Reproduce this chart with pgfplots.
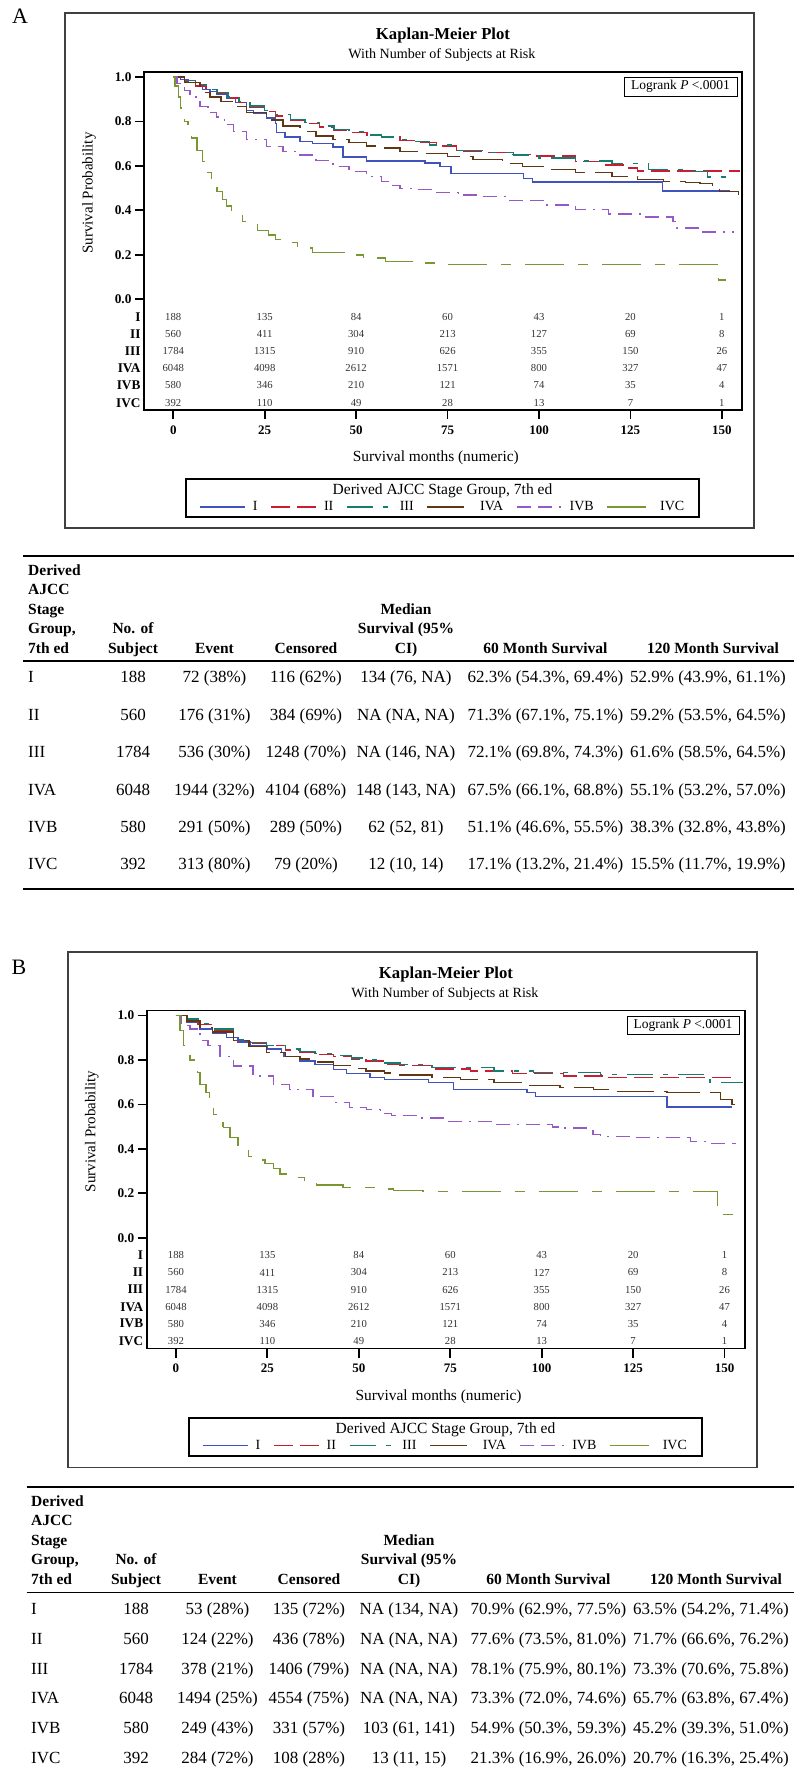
\documentclass[border=0pt]{standalone}
\usepackage{fontspec}
\setmainfont{Liberation Serif}
\usepackage{pgfplots}
\pgfplotsset{compat=1.18}
\usepackage{pgfplotstable}

\definecolor{kmI}{RGB}{64,82,190}
\definecolor{kmII}{RGB}{200,30,50}
\definecolor{kmIII}{RGB}{20,125,110}
\definecolor{kmIVA}{RGB}{95,55,20}
\definecolor{kmIVB}{RGB}{150,90,200}
\definecolor{kmIVC}{RGB}{120,150,50}

% numbers at risk (same in both panels)
\pgfplotstableread{
x y lab
0 -0.079 188
25 -0.079 135
50 -0.079 84
75 -0.079 60
100 -0.079 43
125 -0.079 20
150 -0.079 1
0 -0.156 560
25 -0.156 411
50 -0.156 304
75 -0.156 213
100 -0.156 127
125 -0.156 69
150 -0.156 8
0 -0.233 1784
25 -0.233 1315
50 -0.233 910
75 -0.233 626
100 -0.233 355
125 -0.233 150
150 -0.233 26
0 -0.310 6048
25 -0.310 4098
50 -0.310 2612
75 -0.310 1571
100 -0.310 800
125 -0.310 327
150 -0.310 47
0 -0.386 580
25 -0.386 346
50 -0.386 210
75 -0.386 121
100 -0.386 74
125 -0.386 35
150 -0.386 4
0 -0.466 392
25 -0.466 110
50 -0.466 49
75 -0.466 28
100 -0.466 13
125 -0.466 7
150 -0.466 1
}\atrisk

\pgfplotsset{
  km/.style={
    scale only axis, width=598pt, height=338pt,
    xmin=-8, xmax=155.5, ymin=-0.498, ymax=1.0225,
    axis line style={line width=1.8pt},
    tick pos=left, tick align=outside,
    major tick length=9pt,
    every tick/.style={line width=1.8pt, black},
    xtick={0,25,50,75,100,125,150},
    ytick={0,0.2,0.4,0.6,0.8,1},
    /pgf/number format/assume math mode=true,
    xticklabel style={font=\fontsize{13}{13}\selectfont\bfseries, yshift=-3pt},
    yticklabel style={font=\fontsize{13.3}{13}\selectfont\bfseries,
      /pgf/number format/fixed, /pgf/number format/fixed zerofill,
      /pgf/number format/precision=1},
    extra y ticks={-0.079,-0.156,-0.233,-0.310,-0.386,-0.466},
    extra y tick labels={I,II,III,IVA,IVB,IVC},
    extra y tick style={major tick length=0pt, tick style={draw=none}},
    xlabel={Survival months (numeric)},
    xlabel style={font=\fontsize{15.4}{16}\selectfont,
      at={(axis description cs:0.488,0)}, anchor=center, yshift=-48pt},
    ylabel={Survival Probability},
    ylabel style={font=\fontsize{15}{16}\selectfont,
      at={(axis description cs:-0.092,0.642)}, anchor=center},
    legend columns=6,
    legend style={at={(axis description cs:0.499,-0.287)}, anchor=center,
      draw=none, fill=none, font=\fontsize{14}{14}\selectfont,
      nodes={inner sep=1pt},
      /tikz/every odd column/.append style={column sep=6pt},
      /tikz/every even column/.append style={column sep=12pt}},
    legend cell align=left,
    legend image code/.code={\draw[#1] (0pt,0pt) -- (45pt,0pt);},
  },
  sI/.style={const plot, color=kmI, line width=1.4pt},
  sII/.style={const plot, color=kmII, line width=1.4pt, dash pattern=on 19pt off 7pt},
  sIII/.style={const plot, color=kmIII, line width=1.4pt, dash pattern=on 26pt off 10pt on 5pt off 10pt},
  sIVA/.style={const plot, color=kmIVA, line width=1.4pt, dash pattern=on 37pt off 10pt},
  sIVB/.style={const plot, color=kmIVB, line width=1.4pt, dash pattern=on 14pt off 7pt on 14pt off 7pt on 2pt off 7pt},
  sIVC/.style={const plot, color=kmIVC, line width=1.4pt, dash pattern=on 39pt off 14pt on 10pt off 14pt},
  atrisk/.style={draw=none, forget plot, nodes near coords, point meta=explicit symbolic,
    nodes near coords align=center,
    every node near coord/.append style={font=\fontsize{10.7}{11}\selectfont, text=black!80, inner sep=0pt}},
}

\newcommand\trow[8]{%
  \node[anchor=base west] at (28+\tdx,-#1) {#2};
  \node[anchor=base] at (133+\tdx,-#1) {#3};
  \node[anchor=base] at (214.5+\tdx,-#1) {#4};
  \node[anchor=base] at (306+\tdx,-#1) {#5};
  \node[anchor=base] at (406+\tdx,-#1) {#6};
  \node[anchor=base] at (545.5+\tdx,-#1) {#7};
  \node[anchor=base] at (708+\tdx,-#1) {#8};
}
\newcommand\thead[2]{% #1 x offset of table, #2 y of first header line
  \node[anchor=base west] at (28+#1,-#2) {Derived};
  \node[anchor=base west] at (28+#1,-#2-19.5) {AJCC};
  \node[anchor=base west] at (28+#1,-#2-39) {Stage};
  \node[anchor=base west] at (28+#1,-#2-58.5) {Group,};
  \node[anchor=base west] at (28+#1,-#2-78) {7th ed};
  \node[anchor=base] at (133+#1,-#2-58.5) {No. of};
  \node[anchor=base] at (133+#1,-#2-78) {Subject};
  \node[anchor=base] at (214.5+#1,-#2-78) {Event};
  \node[anchor=base] at (306+#1,-#2-78) {Censored};
  \node[anchor=base] at (406+#1,-#2-39) {Median};
  \node[anchor=base] at (406+#1,-#2-58.5) {Survival (95\%};
  \node[anchor=base] at (406+#1,-#2-78) {CI)};
  \node[anchor=base] at (545.5+#1,-#2-78) {60 Month Survival};
  \node[anchor=base] at (713+#1,-#2-78) {120 Month Survival};
}

\begin{document}
\begin{tikzpicture}[x=1pt,y=1pt]
\useasboundingbox (0,0) rectangle (794,-1769);

% ---------------- panel A ----------------
\node[font=\fontsize{22}{22}\selectfont] at (20,-16) {A};
\draw[line width=1.8pt, black!75] (65,-13) rectangle (754,-528);
\node[anchor=base, font=\fontsize{16.7}{17}\selectfont\bfseries] at (443,-39.5) {Kaplan-Meier Plot};
\node[anchor=base, font=\fontsize{14.1}{15}\selectfont] at (442,-58.7) {With Number of Subjects at Risk};

\begin{axis}[km, at={(144pt,-410pt)}, anchor=south west]
\addplot[sI] coordinates {(0,1) (2,0.99) (4,0.975) (6,0.96) (8,0.945) (10,0.935) (12,0.92) (14.7,0.905) (17,0.885) (20,0.85) (22,0.835) (25.5,0.815) (28,0.79) (28.3,0.75) (30.5,0.73) (34.6,0.71) (38,0.70) (43.7,0.685) (46.4,0.64) (52.8,0.623) (68.8,0.613) (72.9,0.597) (75.9,0.567) (95.8,0.544) (98.3,0.528) (133.8,0.488) (152,0.484)};
\addplot[sII] coordinates {(0,1) (3,0.98) (6,0.96) (9,0.945) (12,0.925) (15,0.905) (18,0.885) (21,0.865) (25,0.845) (28,0.825) (32,0.805) (36,0.79) (40,0.775) (44,0.76) (48,0.75) (53,0.74) (57,0.73) (62,0.715) (67,0.705) (72,0.69) (77.5,0.668) (85,0.66) (92,0.652) (99.4,0.645) (110,0.62) (117,0.605) (123,0.59) (127,0.577) (155,0.577)};
\addplot[sIII] coordinates {(0,1) (3,0.985) (6,0.965) (9,0.945) (12,0.93) (15,0.91) (18,0.89) (21,0.87) (25,0.85) (28,0.83) (32,0.81) (36,0.795) (40,0.78) (44,0.765) (48,0.755) (53,0.74) (57,0.73) (62,0.72) (65.5,0.71) (70,0.695) (77.5,0.67) (85,0.66) (93,0.65) (100,0.635) (110,0.622) (120,0.61) (130,0.585) (140,0.575) (146,0.55) (152,0.55)};
\addplot[sIVA] coordinates {(0,1) (3,0.975) (7.3,0.93) (10,0.91) (13,0.89) (16.4,0.866) (20,0.84) (25.5,0.806) (30,0.78) (34.6,0.755) (39,0.735) (43.7,0.72) (48,0.705) (52.8,0.69) (57,0.68) (62,0.665) (68,0.655) (75,0.642) (82,0.63) (90,0.61) (95.5,0.597) (102,0.585) (110,0.57) (120,0.552) (127,0.54) (134,0.53) (140,0.525) (144,0.52) (147.5,0.50) (149.4,0.484) (154.5,0.47)};
\addplot[sIVB] coordinates {(0,1) (1,0.97) (3,0.94) (4.6,0.91) (7.3,0.866) (9.5,0.84) (11.8,0.82) (14,0.785) (16.4,0.755) (20,0.72) (25.5,0.687) (30,0.665) (34.6,0.649) (39,0.625) (43.7,0.597) (48,0.575) (52.8,0.552) (57,0.53) (60,0.511) (62,0.499) (65.5,0.495) (72,0.48) (78,0.47) (83.8,0.462) (92,0.445) (102,0.425) (110,0.405) (119,0.383) (128,0.37) (136.6,0.35) (137.6,0.32) (144,0.303) (153,0.30)};
\addplot[sIVC] coordinates {(0,1) (0.5,0.96) (1.5,0.91) (2,0.86) (3,0.80) (4,0.775) (5,0.725) (6.5,0.67) (8,0.62) (9.5,0.57) (10.5,0.52) (12,0.485) (13.5,0.45) (14.5,0.42) (16,0.39) (19,0.35) (23,0.31) (26,0.29) (28,0.27) (30,0.255) (34,0.23) (38,0.21) (47,0.20) (52,0.185) (58,0.171) (68,0.163) (73,0.157) (149,0.087) (153,0.087)};
\legend{I,II,III,IVA,IVB,IVC}
\addplot[atrisk] table[x=x, y=y, meta=lab] {\atrisk};
\end{axis}
\node[draw, line width=1pt, inner sep=0pt, minimum width=113pt, minimum height=19pt,
  font=\fontsize{13.5}{14}\selectfont] at (680.5,-86.5) {Logrank \textit{P} <.0001};
\draw[line width=1.8pt] (186,-479) rectangle (699,-517);
\node[font=\fontsize{15.5}{16}\selectfont] at (442.5,-490.5) {Derived AJCC Stage Group, 7th ed};

% ---------------- table A ----------------
\begin{scope}[inner sep=0pt]
\draw[line width=2.2pt] (23,-556) -- (794,-556);
\draw[line width=1.3pt] (23,-661) -- (794,-661);
\draw[line width=2.5pt] (23,-889) -- (794,-889);
\begin{scope}[font=\fontsize{15.5}{16}\selectfont\bfseries]
\thead{0}{575.3}
\end{scope}
\begin{scope}[font=\fontsize{17}{18}\selectfont]
\def\tdx{0}
\trow{682.8}{I}{188}{72 (38\%)}{116 (62\%)}{134 (76, NA)}{62.3\% (54.3\%, 69.4\%)}{52.9\% (43.9\%, 61.1\%)}
\trow{720.2}{II}{560}{176 (31\%)}{384 (69\%)}{NA (NA, NA)}{71.3\% (67.1\%, 75.1\%)}{59.2\% (53.5\%, 64.5\%)}
\trow{757.6}{III}{1784}{536 (30\%)}{1248 (70\%)}{NA (146, NA)}{72.1\% (69.8\%, 74.3\%)}{61.6\% (58.5\%, 64.5\%)}
\trow{795.0}{IVA}{6048}{1944 (32\%)}{4104 (68\%)}{148 (143, NA)}{67.5\% (66.1\%, 68.8\%)}{55.1\% (53.2\%, 57.0\%)}
\trow{832.4}{IVB}{580}{291 (50\%)}{289 (50\%)}{62 (52, 81)}{51.1\% (46.6\%, 55.5\%)}{38.3\% (32.8\%, 43.8\%)}
\trow{869.8}{IVC}{392}{313 (80\%)}{79 (20\%)}{12 (10, 14)}{17.1\% (13.2\%, 21.4\%)}{15.5\% (11.7\%, 19.9\%)}
\end{scope}
\end{scope}

% ---------------- panel B ----------------
\node[font=\fontsize{22}{22}\selectfont] at (19,-967) {B};
\draw[line width=1.8pt, black!75] (68,-952) rectangle (757,-1467.5);
\node[anchor=base, font=\fontsize{16.7}{17}\selectfont\bfseries] at (446,-978.5) {Kaplan-Meier Plot};
\node[anchor=base, font=\fontsize{14.1}{15}\selectfont] at (445,-997.7) {With Number of Subjects at Risk};

\begin{axis}[km, at={(146.7pt,-1348.5pt)}, anchor=south west]
\addplot[sI] coordinates {(0,1) (3,0.97) (6.6,0.94) (10,0.92) (13.8,0.902) (17,0.88) (20.2,0.864) (25,0.85) (28.9,0.834) (29.5,0.816) (33.9,0.796) (38,0.78) (43,0.758) (46.6,0.74) (53,0.721) (57,0.713) (69,0.698) (75.9,0.668) (96,0.653) (98.3,0.637) (134.2,0.589) (152,0.589)};
\addplot[sII] coordinates {(0,1) (3,0.98) (6,0.96) (10,0.935) (15.7,0.887) (20,0.875) (24.8,0.864) (30,0.845) (33.9,0.834) (38,0.825) (43,0.816) (48,0.805) (52,0.796) (57,0.78) (61.2,0.776) (70,0.76) (80.5,0.751) (92,0.74) (106,0.728) (117,0.721) (153.4,0.717)};
\addplot[sIII] coordinates {(0,1) (3,0.985) (6,0.965) (10,0.94) (15.7,0.89) (20,0.878) (24.8,0.866) (30,0.85) (33.9,0.838) (38,0.83) (43,0.82) (48,0.808) (52,0.8) (57,0.787) (61.2,0.78) (70,0.765) (86.9,0.751) (97.8,0.743) (116,0.736) (145.2,0.728) (146,0.698) (155,0.698)};
\addplot[sIVA] coordinates {(0,1) (3,0.975) (6.6,0.947) (10,0.925) (15.7,0.887) (20,0.86) (24.8,0.834) (30,0.815) (33.9,0.804) (38,0.79) (43,0.776) (48,0.762) (52,0.751) (57,0.742) (61.2,0.733) (70,0.722) (77.8,0.713) (87,0.70) (96,0.686) (105,0.676) (114.2,0.668) (120,0.657) (134.2,0.653) (148.8,0.622) (152,0.60) (155,0.60)};
\addplot[sIVB] coordinates {(0,1) (1.5,0.955) (3.8,0.94) (6.6,0.887) (8.8,0.864) (12,0.816) (15.7,0.773) (21.1,0.728) (26.6,0.69) (31.1,0.668) (37.5,0.637) (43,0.61) (47.5,0.585) (52.1,0.577) (56,0.56) (59,0.549) (66,0.539) (73.2,0.524) (86.9,0.509) (103,0.499) (105,0.494) (114,0.464) (116,0.456) (125,0.45) (140.6,0.433) (145,0.425) (153,0.425)};
\addplot[sIVC] coordinates {(0,1) (1.1,0.932) (2,0.864) (3.8,0.80) (5,0.78) (5.9,0.743) (6.6,0.69) (8.2,0.654) (9.2,0.622) (10.2,0.554) (12.9,0.501) (13,0.495) (14.8,0.45) (17,0.396) (19.8,0.365) (21.1,0.35) (24.3,0.335) (26.6,0.313) (28.4,0.287) (31.1,0.272) (35.2,0.252) (38.4,0.237) (45.7,0.227) (55.7,0.22) (59.4,0.214) (67.5,0.207) (148,0.104) (153,0.104)};
\legend{I,II,III,IVA,IVB,IVC}
\addplot[atrisk] table[x=x, y=y, meta=lab] {\atrisk};
\end{axis}
\node[draw, line width=1pt, inner sep=0pt, minimum width=112pt, minimum height=18pt,
  font=\fontsize{13.5}{14}\selectfont] at (683,-1025.5) {Logrank \textit{P} <.0001};
\draw[line width=1.8pt] (189,-1418) rectangle (702,-1456);
\node[font=\fontsize{15.5}{16}\selectfont] at (445.5,-1429.5) {Derived AJCC Stage Group, 7th ed};

% ---------------- table B ----------------
\begin{scope}[inner sep=0pt]
\draw[line width=2.2pt] (26.7,-1487.3) -- (794,-1487.3);
\draw[line width=1.3pt] (26.7,-1592.7) -- (794,-1592.7);
\begin{scope}[font=\fontsize{15.5}{16}\selectfont\bfseries]
\thead{3}{1506.3}
\end{scope}
\begin{scope}[font=\fontsize{17}{18}\selectfont]
\def\tdx{3}
\trow{1614.5}{I}{188}{53 (28\%)}{135 (72\%)}{NA (134, NA)}{70.9\% (62.9\%, 77.5\%)}{63.5\% (54.2\%, 71.4\%)}
\trow{1644.3}{II}{560}{124 (22\%)}{436 (78\%)}{NA (NA, NA)}{77.6\% (73.5\%, 81.0\%)}{71.7\% (66.6\%, 76.2\%)}
\trow{1674.1}{III}{1784}{378 (21\%)}{1406 (79\%)}{NA (NA, NA)}{78.1\% (75.9\%, 80.1\%)}{73.3\% (70.6\%, 75.8\%)}
\trow{1703.9}{IVA}{6048}{1494 (25\%)}{4554 (75\%)}{NA (NA, NA)}{73.3\% (72.0\%, 74.6\%)}{65.7\% (63.8\%, 67.4\%)}
\trow{1733.7}{IVB}{580}{249 (43\%)}{331 (57\%)}{103 (61, 141)}{54.9\% (50.3\%, 59.3\%)}{45.2\% (39.3\%, 51.0\%)}
\trow{1763.5}{IVC}{392}{284 (72\%)}{108 (28\%)}{13 (11, 15)}{21.3\% (16.9\%, 26.0\%)}{20.7\% (16.3\%, 25.4\%)}
\end{scope}
\end{scope}
\end{tikzpicture}
\end{document}
